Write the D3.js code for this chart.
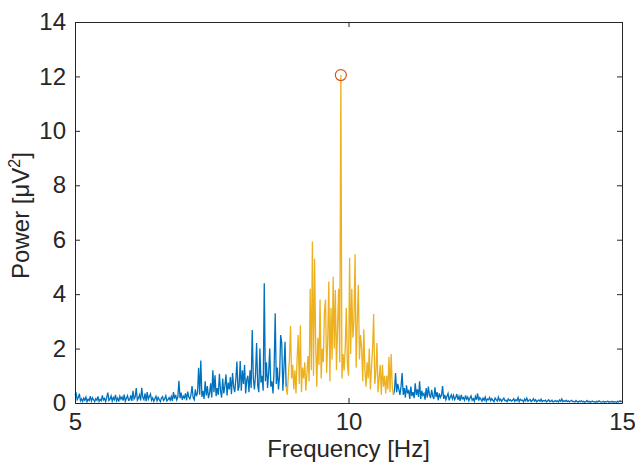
<!DOCTYPE html>
<html>
<head>
<meta charset="utf-8">
<script src="https://cdn.jsdelivr.net/npm/d3@7"></script>
<style>
  body { margin: 0; background: #fff; }
  svg { display: block; font-family: "Liberation Sans", Arial, sans-serif; }
  .tick text { font-size: 24px; fill: #262626; }
  .axis-label { font-size: 24px; fill: #262626; }
</style>
</head>
<body>
<svg></svg>
<script>
// spectrum sampled every 0.02 Hz from 5 Hz, one array per Hz
const freqStart = 5;
const freqStep = 0.02;
const p5 = [0.30,0.36,0.12,0.20,0.34,0.08,0.15,0.06,0.18,0.10,
  0.22,0.05,0.14,0.09,0.25,0.07,0.19,0.12,0.05,0.16,
  0.10,0.24,0.06,0.13,0.08,0.28,0.11,0.17,0.05,0.21,
  0.38,0.09,0.15,0.26,0.07,0.20,0.12,0.30,0.08,0.18,
  0.05,0.25,0.14,0.22,0.09,0.31,0.06,0.17,0.27,0.10];
const p6 = [0.12,0.28,0.08,0.45,0.15,0.22,0.55,0.10,0.18,0.30,
  0.09,0.56,0.20,0.12,0.35,0.07,0.40,0.14,0.24,0.33,
  0.10,0.19,0.06,0.16,0.25,0.08,0.21,0.13,0.05,0.18,
  0.23,0.09,0.15,0.27,0.07,0.12,0.20,0.10,0.24,0.08,
  0.40,0.16,0.30,0.11,0.22,0.82,0.18,0.38,0.12,0.25];
const p7 = [0.18,0.35,0.10,0.42,0.22,0.15,0.30,0.62,0.20,0.12,
  0.50,0.25,0.38,1.29,0.30,1.56,0.22,0.45,0.15,0.80,
  0.28,0.62,0.18,0.35,0.72,0.20,1.20,0.40,1.02,0.25,
  0.55,0.30,1.07,0.45,0.20,0.90,0.35,0.62,1.05,0.28,
  0.75,0.50,0.95,0.32,1.10,0.60,0.40,0.85,1.52,0.45];
const p8 = [0.60,1.54,0.45,1.20,0.70,1.40,0.35,0.85,1.00,0.40,
  1.20,0.55,2.68,0.90,0.50,1.05,2.20,0.65,0.40,2.00,
  0.75,1.00,0.45,4.40,0.80,1.50,0.55,1.10,2.00,0.60,
  0.80,0.35,1.20,3.30,0.70,1.30,0.50,1.00,2.50,2.20,
  0.45,1.30,2.25,0.60,0.30,1.00,1.60,2.83,0.90,1.40];
const p9 = [0.50,1.20,0.35,1.60,2.50,0.70,2.85,0.40,1.30,0.90,
  1.50,0.45,1.10,1.73,0.80,4.20,1.20,5.93,1.00,5.30,
  2.20,0.60,2.40,1.40,3.80,0.90,2.00,1.50,3.36,3.80,
  1.10,2.30,4.46,0.80,3.50,1.60,4.64,2.00,4.15,1.20,
  2.80,4.20,1.50,12.05,0.90,1.80,1.20,2.00,3.50,1.40];
const p10 = [1.00,5.34,1.80,4.20,2.40,3.00,5.47,1.30,3.00,4.34,
  1.60,2.50,2.00,0.80,2.70,1.20,0.60,1.50,0.90,2.00,
  0.50,1.30,2.00,3.27,0.70,1.10,2.20,0.40,0.90,1.40,
  0.30,1.40,0.60,1.00,0.35,1.00,0.50,1.70,0.40,1.80,
  0.60,0.30,0.45,1.10,0.40,0.70,0.50,0.30,0.60,1.10];
const p11 = [0.30,0.55,0.20,0.65,0.35,0.48,0.15,0.60,0.25,0.40,
  0.18,0.72,0.30,0.50,0.22,0.80,0.15,0.45,0.28,0.35,
  0.12,0.55,0.20,0.60,0.30,0.18,0.48,0.25,0.15,0.58,
  0.22,0.40,0.10,0.35,0.20,0.28,0.62,0.15,0.30,0.12,
  0.25,0.35,0.10,0.22,0.30,0.15,0.28,0.12,0.20,0.33];
const p12 = [0.12,0.25,0.08,0.30,0.15,0.20,0.10,0.28,0.14,0.22,
  0.08,0.18,0.26,0.10,0.16,0.06,0.24,0.12,0.35,0.09,
  0.20,0.14,0.07,0.18,0.10,0.22,0.06,0.15,0.12,0.20,
  0.08,0.16,0.10,0.05,0.18,0.12,0.07,0.22,0.09,0.14,
  0.06,0.12,0.18,0.08,0.10,0.05,0.15,0.09,0.12,0.07];
const p13 = [0.10,0.16,0.06,0.12,0.08,0.20,0.05,0.14,0.09,0.11,
  0.04,0.15,0.08,0.18,0.06,0.10,0.13,0.05,0.09,0.16,
  0.07,0.12,0.04,0.08,0.11,0.06,0.14,0.05,0.09,0.07,
  0.10,0.04,0.08,0.12,0.05,0.07,0.10,0.04,0.06,0.09,
  0.05,0.08,0.04,0.11,0.06,0.15,0.05,0.08,0.06,0.10];
const p14 = [0.05,0.08,0.04,0.07,0.10,0.05,0.06,0.04,0.09,0.05,
  0.03,0.07,0.05,0.08,0.04,0.06,0.03,0.05,0.09,0.04,
  0.06,0.03,0.05,0.07,0.04,0.05,0.03,0.06,0.04,0.08,
  0.05,0.03,0.04,0.06,0.03,0.05,0.04,0.07,0.03,0.05,
  0.04,0.06,0.03,0.05,0.04,0.03,0.06,0.04,0.08,0.05,0.07];

const alphaBand = [8.86, 10.82];
const peak = { freq: 9.86, power: 12.05 };
const xTicks = [5, 10, 15];
const yTicks = [0, 2, 4, 6, 8, 10, 12, 14];

const power = [].concat(p5, p6, p7, p8, p9, p10, p11, p12, p13, p14);
const data = power.map((p, i) => ({ f: +(freqStart + i * freqStep).toFixed(2), p }));

const margin = { top: 22, right: 13, bottom: 60, left: 75 };
const W = 635, H = 463;
const width = W - margin.left - margin.right;
const height = H - margin.top - margin.bottom;

const svg = d3.select('svg').attr('width', W).attr('height', H);
const g = svg.append('g').attr('transform', `translate(${margin.left}, ${margin.top})`);

const x = d3.scaleLinear().domain([5, 15]).range([0, width]);
const y = d3.scaleLinear().domain([0, 14]).range([height, 0]);

const line = d3.line().x(d => x(d.f)).y(d => y(d.p));

// spectrum: blue outside the band, orange inside
const below = data.filter(d => d.f <= alphaBand[0]);
const above = data.filter(d => d.f >= alphaBand[1]);
const inside = data.filter(d => d.f >= alphaBand[0] && d.f <= alphaBand[1]);

[below, above].forEach(seg => {
  g.append('path').datum(seg)
    .attr('fill', 'none')
    .attr('stroke', '#0072BD')
    .attr('stroke-width', 1.3)
    .attr('d', line);
});
g.append('path').datum(inside)
  .attr('fill', 'none')
  .attr('stroke', '#EDB120')
  .attr('stroke-width', 1.3)
  .attr('d', line);

g.append('circle')
  .attr('cx', x(peak.freq))
  .attr('cy', y(peak.power))
  .attr('r', 5.5)
  .attr('fill', 'none')
  .attr('stroke', '#D95319')
  .attr('stroke-width', 1.2);

// axes, MATLAB style box with inner ticks
g.append('g')
  .attr('transform', `translate(0, ${height})`)
  .call(d3.axisBottom(x).tickValues(xTicks).tickSizeInner(-5).tickSizeOuter(0).tickPadding(10));
g.append('g')
  .call(d3.axisLeft(y).tickValues(yTicks).tickSizeInner(-5).tickSizeOuter(0).tickPadding(9));
g.append('g')
  .call(d3.axisTop(x).tickValues(xTicks).tickSizeInner(-5).tickSizeOuter(0).tickFormat(''));
g.append('g')
  .attr('transform', `translate(${width}, 0)`)
  .call(d3.axisRight(y).tickValues(yTicks).tickSizeInner(-5).tickSizeOuter(0).tickFormat(''));

g.selectAll('.domain, .tick line').attr('stroke', '#262626').attr('stroke-width', 1);

g.append('text')
  .attr('class', 'axis-label')
  .attr('text-anchor', 'middle')
  .attr('transform', `translate(${width / 2}, ${height + 54})`)
  .text('Frequency [Hz]');

const yLabel = g.append('text')
  .attr('class', 'axis-label')
  .attr('text-anchor', 'middle')
  .attr('transform', `translate(-46, ${height / 2 + 3}) rotate(-90)`);
yLabel.append('tspan').text('Power [μV');
yLabel.append('tspan').attr('dy', -9).attr('font-size', 16).text('2');
yLabel.append('tspan').attr('dy', 9).text(']');
</script>
</body>
</html>
